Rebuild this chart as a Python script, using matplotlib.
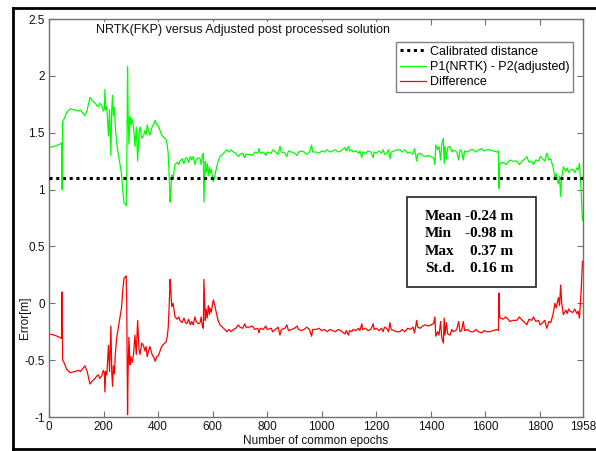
import matplotlib
matplotlib.use("Agg")
import matplotlib.pyplot as plt
from matplotlib.patches import Rectangle
from matplotlib.lines import Line2D

# ---- data ----
epochs = [0, 20, 40, 46, 48, 50, 55, 65, 77, 95,
          108, 115, 125, 132, 140, 150, 160, 169, 175, 181,
          186, 193, 199, 203, 205, 208, 212, 215, 218, 222,
          227, 230, 233, 236, 240, 243, 248, 255, 262, 266,
          270, 275, 280, 283, 285, 288, 290, 293, 297, 300,
          305, 310, 315, 320, 325, 330, 334, 340, 346, 352,
          356, 360, 365, 370, 378, 385, 389, 395, 401, 407,
          413, 420, 429, 433, 437, 441, 444, 447, 450, 455,
          462, 470, 476, 480, 488, 495, 500, 505, 512, 518,
          523, 529, 535, 540, 547, 554, 558, 562, 566, 568,
          570, 573, 576, 580, 584, 588, 590, 595, 600, 603,
          608, 615, 620, 627, 640, 652, 660, 668, 676, 685,
          694, 700, 710, 718, 722, 735, 745, 755, 765, 770,
          774, 785, 795, 800, 815, 820, 830, 840, 847, 852,
          865, 872, 878, 890, 900, 910, 915, 925, 935, 945,
          955, 963, 967, 980, 990, 1000, 1010, 1020, 1030, 1040,
          1050, 1060, 1070, 1080, 1085, 1090, 1098, 1102, 1110, 1115,
          1125, 1135, 1140, 1147, 1150, 1160, 1170, 1180, 1189, 1192,
          1200, 1210, 1219, 1225, 1230, 1238, 1245, 1250, 1255, 1265,
          1275, 1287, 1295, 1305, 1315, 1325, 1335, 1340, 1345, 1348,
          1352, 1360, 1370, 1380, 1390, 1400, 1410, 1415, 1418, 1425,
          1430, 1436, 1440, 1446, 1449, 1452, 1457, 1462, 1470, 1477,
          1482, 1490, 1495, 1502, 1507, 1513, 1519, 1524, 1535, 1545,
          1556, 1565, 1575, 1587, 1595, 1605, 1617, 1628, 1642, 1648,
          1650, 1652, 1654, 1665, 1675, 1690, 1700, 1715, 1725, 1735,
          1745, 1752, 1760, 1770, 1776, 1785, 1795, 1801, 1810, 1818,
          1825, 1833, 1840, 1843, 1848, 1855, 1860, 1865, 1868, 1872,
          1876, 1880, 1886, 1895, 1900, 1905, 1911, 1920, 1928, 1935,
          1940, 1945, 1951, 1956]

p1_minus_p2 = [1.37, 1.38, 1.40, 1.41, 1.00, 1.60, 1.62, 1.68, 1.71, 1.70,
               1.69, 1.70, 1.67, 1.65, 1.70, 1.81, 1.78, 1.76, 1.74, 1.73,
               1.76, 1.74, 1.69, 1.71, 1.88, 1.70, 1.73, 1.60, 1.47, 1.70,
               1.30, 1.70, 1.83, 1.65, 1.72, 1.55, 1.41, 1.30, 1.20, 1.14,
               1.00, 0.88, 0.87, 0.86, 1.10, 2.08, 1.70, 1.40, 1.64, 1.57,
               1.62, 1.55, 1.38, 1.55, 1.25, 1.50, 1.55, 1.45, 1.47, 1.52,
               1.48, 1.57, 1.52, 1.48, 1.55, 1.58, 1.61, 1.57, 1.56, 1.52,
               1.48, 1.46, 1.44, 1.40, 1.32, 1.10, 0.89, 1.00, 1.13, 1.10,
               1.22, 1.24, 1.22, 1.25, 1.27, 1.23, 1.27, 1.28, 1.24, 1.29,
               1.26, 1.29, 1.22, 1.26, 1.28, 1.27, 1.22, 1.30, 1.32, 0.89,
               1.03, 1.25, 1.15, 1.23, 1.12, 1.20, 1.14, 1.18, 1.10, 1.07,
               1.12, 1.20, 1.25, 1.29, 1.32, 1.35, 1.33, 1.35, 1.33, 1.32,
               1.29, 1.31, 1.32, 1.28, 1.31, 1.31, 1.30, 1.33, 1.32, 1.36,
               1.32, 1.33, 1.30, 1.33, 1.32, 1.35, 1.33, 1.31, 1.38, 1.33,
               1.32, 1.29, 1.34, 1.33, 1.32, 1.30, 1.33, 1.34, 1.33, 1.31,
               1.33, 1.39, 1.33, 1.33, 1.32, 1.34, 1.33, 1.35, 1.33, 1.34,
               1.35, 1.33, 1.34, 1.36, 1.37, 1.34, 1.38, 1.34, 1.35, 1.33,
               1.34, 1.32, 1.34, 1.28, 1.33, 1.32, 1.34, 1.33, 1.28, 1.33,
               1.32, 1.34, 1.32, 1.35, 1.31, 1.32, 1.35, 1.27, 1.33, 1.34,
               1.35, 1.35, 1.33, 1.35, 1.32, 1.33, 1.31, 1.36, 1.30, 1.25,
               1.31, 1.32, 1.30, 1.29, 1.30, 1.29, 1.28, 1.22, 1.39, 1.35,
               1.38, 1.26, 1.40, 1.45, 1.23, 1.38, 1.27, 1.37, 1.38, 1.33,
               1.35, 1.34, 1.33, 1.26, 1.35, 1.34, 1.26, 1.34, 1.33, 1.35,
               1.35, 1.33, 1.35, 1.36, 1.34, 1.35, 1.35, 1.34, 1.33, 1.34,
               1.01, 1.20, 1.23, 1.24, 1.22, 1.26, 1.25, 1.25, 1.22, 1.25,
               1.27, 1.29, 1.24, 1.25, 1.22, 1.26, 1.25, 1.29, 1.27, 1.25,
               1.32, 1.26, 1.27, 1.24, 1.20, 1.10, 1.14, 1.08, 1.05, 1.12,
               0.94, 1.10, 1.20, 1.16, 1.19, 1.15, 1.17, 1.18, 1.15, 1.19,
               1.17, 1.23, 1.00, 0.73]

difference = [-0.27, -0.28, -0.30, -0.31, 0.10, -0.50, -0.52, -0.58, -0.61, -0.60,
              -0.59, -0.60, -0.57, -0.55, -0.60, -0.71, -0.68, -0.66, -0.64, -0.63,
              -0.66, -0.64, -0.59, -0.61, -0.78, -0.60, -0.63, -0.50, -0.37, -0.60,
              -0.20, -0.60, -0.73, -0.55, -0.62, -0.45, -0.31, -0.20, -0.10, -0.04,
              0.10, 0.22, 0.23, 0.24, 0.00, -0.98, -0.60, -0.30, -0.54, -0.47,
              -0.52, -0.45, -0.28, -0.45, -0.15, -0.40, -0.45, -0.35, -0.37, -0.42,
              -0.38, -0.47, -0.42, -0.38, -0.45, -0.48, -0.51, -0.47, -0.46, -0.42,
              -0.38, -0.36, -0.34, -0.30, -0.22, 0.00, 0.21, 0.10, -0.03, 0.00,
              -0.12, -0.14, -0.12, -0.15, -0.17, -0.13, -0.17, -0.18, -0.14, -0.19,
              -0.16, -0.19, -0.12, -0.16, -0.18, -0.17, -0.12, -0.20, -0.22, 0.21,
              0.07, -0.15, -0.05, -0.13, -0.02, -0.10, -0.04, -0.08, 0.00, 0.03,
              -0.02, -0.10, -0.15, -0.19, -0.22, -0.25, -0.23, -0.25, -0.23, -0.22,
              -0.19, -0.21, -0.22, -0.18, -0.21, -0.21, -0.20, -0.23, -0.22, -0.26,
              -0.22, -0.23, -0.20, -0.23, -0.22, -0.25, -0.23, -0.21, -0.28, -0.23,
              -0.22, -0.19, -0.24, -0.23, -0.22, -0.20, -0.23, -0.24, -0.23, -0.21,
              -0.23, -0.29, -0.23, -0.23, -0.22, -0.24, -0.23, -0.25, -0.23, -0.24,
              -0.25, -0.23, -0.24, -0.26, -0.27, -0.24, -0.28, -0.24, -0.25, -0.23,
              -0.24, -0.22, -0.24, -0.18, -0.23, -0.22, -0.24, -0.23, -0.18, -0.23,
              -0.22, -0.24, -0.22, -0.25, -0.21, -0.22, -0.25, -0.17, -0.23, -0.24,
              -0.25, -0.25, -0.23, -0.25, -0.22, -0.23, -0.21, -0.26, -0.20, -0.15,
              -0.21, -0.22, -0.20, -0.19, -0.20, -0.19, -0.18, -0.12, -0.29, -0.25,
              -0.28, -0.16, -0.30, -0.35, -0.13, -0.28, -0.17, -0.27, -0.28, -0.23,
              -0.25, -0.24, -0.23, -0.16, -0.25, -0.24, -0.16, -0.24, -0.23, -0.25,
              -0.25, -0.23, -0.25, -0.26, -0.24, -0.25, -0.25, -0.24, -0.23, -0.24,
              0.09, -0.10, -0.13, -0.14, -0.12, -0.16, -0.15, -0.15, -0.12, -0.15,
              -0.17, -0.19, -0.14, -0.15, -0.12, -0.16, -0.15, -0.19, -0.17, -0.15,
              -0.22, -0.16, -0.17, -0.14, -0.10, 0.00, -0.04, 0.02, 0.05, -0.02,
              0.16, 0.00, -0.10, -0.06, -0.09, -0.05, -0.07, -0.08, -0.05, -0.09,
              -0.07, -0.13, 0.10, 0.37]

calibrated_distance = 1.1
x_range = [0, 1958]
x_ticks = [0, 200, 400, 600, 800, 1000, 1200, 1400, 1600, 1800, 1958]
y_ticks = [-1, -0.5, 0, 0.5, 1, 1.5, 2, 2.5]
y_tick_labels = ["-1", "-0.5", "0", "0.5", "1", "1.5", "2", "2.5"]
stat_names = ["Mean", "Min", "Max", "St.d."]
stat_values = ["-0.24 m", "-0.98 m", "0.37 m", "0.16 m"]

title_text = "NRTK(FKP) versus Adjusted post processed solution"
legend_labels = ["Calibrated distance", "P1(NRTK) - P2(adjusted)", "Difference"]

# ---- figure ----
plt.rcParams['font.family'] = ['Liberation Sans', 'DejaVu Sans']
W, H = 596, 451
fig = plt.figure(figsize=(W / 100, H / 100), dpi=100)
fig.patch.set_facecolor('white')

# outer black frame
frame_kw = dict(color='black', linewidth=2.0, transform=fig.transFigure)
fig.add_artist(Line2D([13 / W, 13 / W], [1 - 449 / H, 1 - 8 / H], **frame_kw))
fig.add_artist(Line2D([13 / W, 1.0], [1 - 8 / H, 1 - 8 / H], **frame_kw))
fig.add_artist(Line2D([13 / W, 1.0], [1 - 449 / H, 1 - 449 / H], **frame_kw))

ax = fig.add_axes([49 / W, 1 - 417 / H, (583 - 49) / W, (417 - 19) / H])

ax.plot(x_range, [calibrated_distance, calibrated_distance], color='black',
        linestyle=(0, (1, 1.2)), linewidth=2.2, label=legend_labels[0], zorder=3)
ax.plot(epochs, p1_minus_p2, color='#00ff00', linewidth=0.9, label=legend_labels[1], zorder=2)
ax.plot(epochs, difference, color='#ff0000', linewidth=0.9, label=legend_labels[2], zorder=2)

ax.set_xlim(x_range)
ax.set_ylim(-1, 2.5)
ax.set_xticks(x_ticks)
ax.set_xticklabels([str(t) for t in x_ticks])
ax.set_yticks(y_ticks)
ax.set_yticklabels(y_tick_labels)

for s in ax.spines.values():
    s.set_color('#707070')
    s.set_linewidth(1.0)
ax.tick_params(direction='in', length=4, width=0.8, color='#707070',
               top=True, right=True, labelsize=8.5, pad=3, labelcolor='#111111')

ax.set_xlabel("Number of common epochs", fontsize=8.5, color='#111111')
ax.xaxis.set_label_coords(0.5, -0.046)
ax.set_ylabel("Error[m]", fontsize=8.5, color='#111111')
ax.yaxis.set_label_coords(-0.033, 0.25)

# title inside the axes
ax.text(96 / W, 1 - 30 / H, title_text, transform=fig.transFigure, fontsize=9,
        ha='left', va='center', color='#111111',
        bbox=dict(facecolor='white', edgecolor='none', pad=1.5), zorder=5)

leg = ax.legend(loc='upper right', bbox_to_anchor=((573 - 49) / 534, (417 - 42) / 398),
                fontsize=9, frameon=True, fancybox=False, borderpad=0.3,
                handlelength=2.1, handletextpad=0.3, labelspacing=0.25,
                borderaxespad=0.0)
leg.get_frame().set_edgecolor('#606060')
leg.get_frame().set_linewidth(1.0)

# statistics box
box_l, box_r, box_t, box_b = 407, 536, 197, 287
fig.add_artist(Rectangle((box_l / W, 1 - box_b / H), (box_r - box_l) / W, (box_b - box_t) / H,
                         transform=fig.transFigure, facecolor='white',
                         edgecolor='#222222', linewidth=1.2, zorder=6))
rows_y = [216, 234, 252, 269]
for name, val, yy in zip(stat_names, stat_values, rows_y):
    fig.text(425 / W, 1 - yy / H, name, fontsize=11, fontweight='bold',
             family='Liberation Serif', ha='left', va='center', zorder=7)
    fig.text(513 / W, 1 - yy / H, val, fontsize=11, fontweight='bold',
             family='Liberation Serif', ha='right', va='center', zorder=7)

fig.savefig("out.png", dpi=100, facecolor='white')
